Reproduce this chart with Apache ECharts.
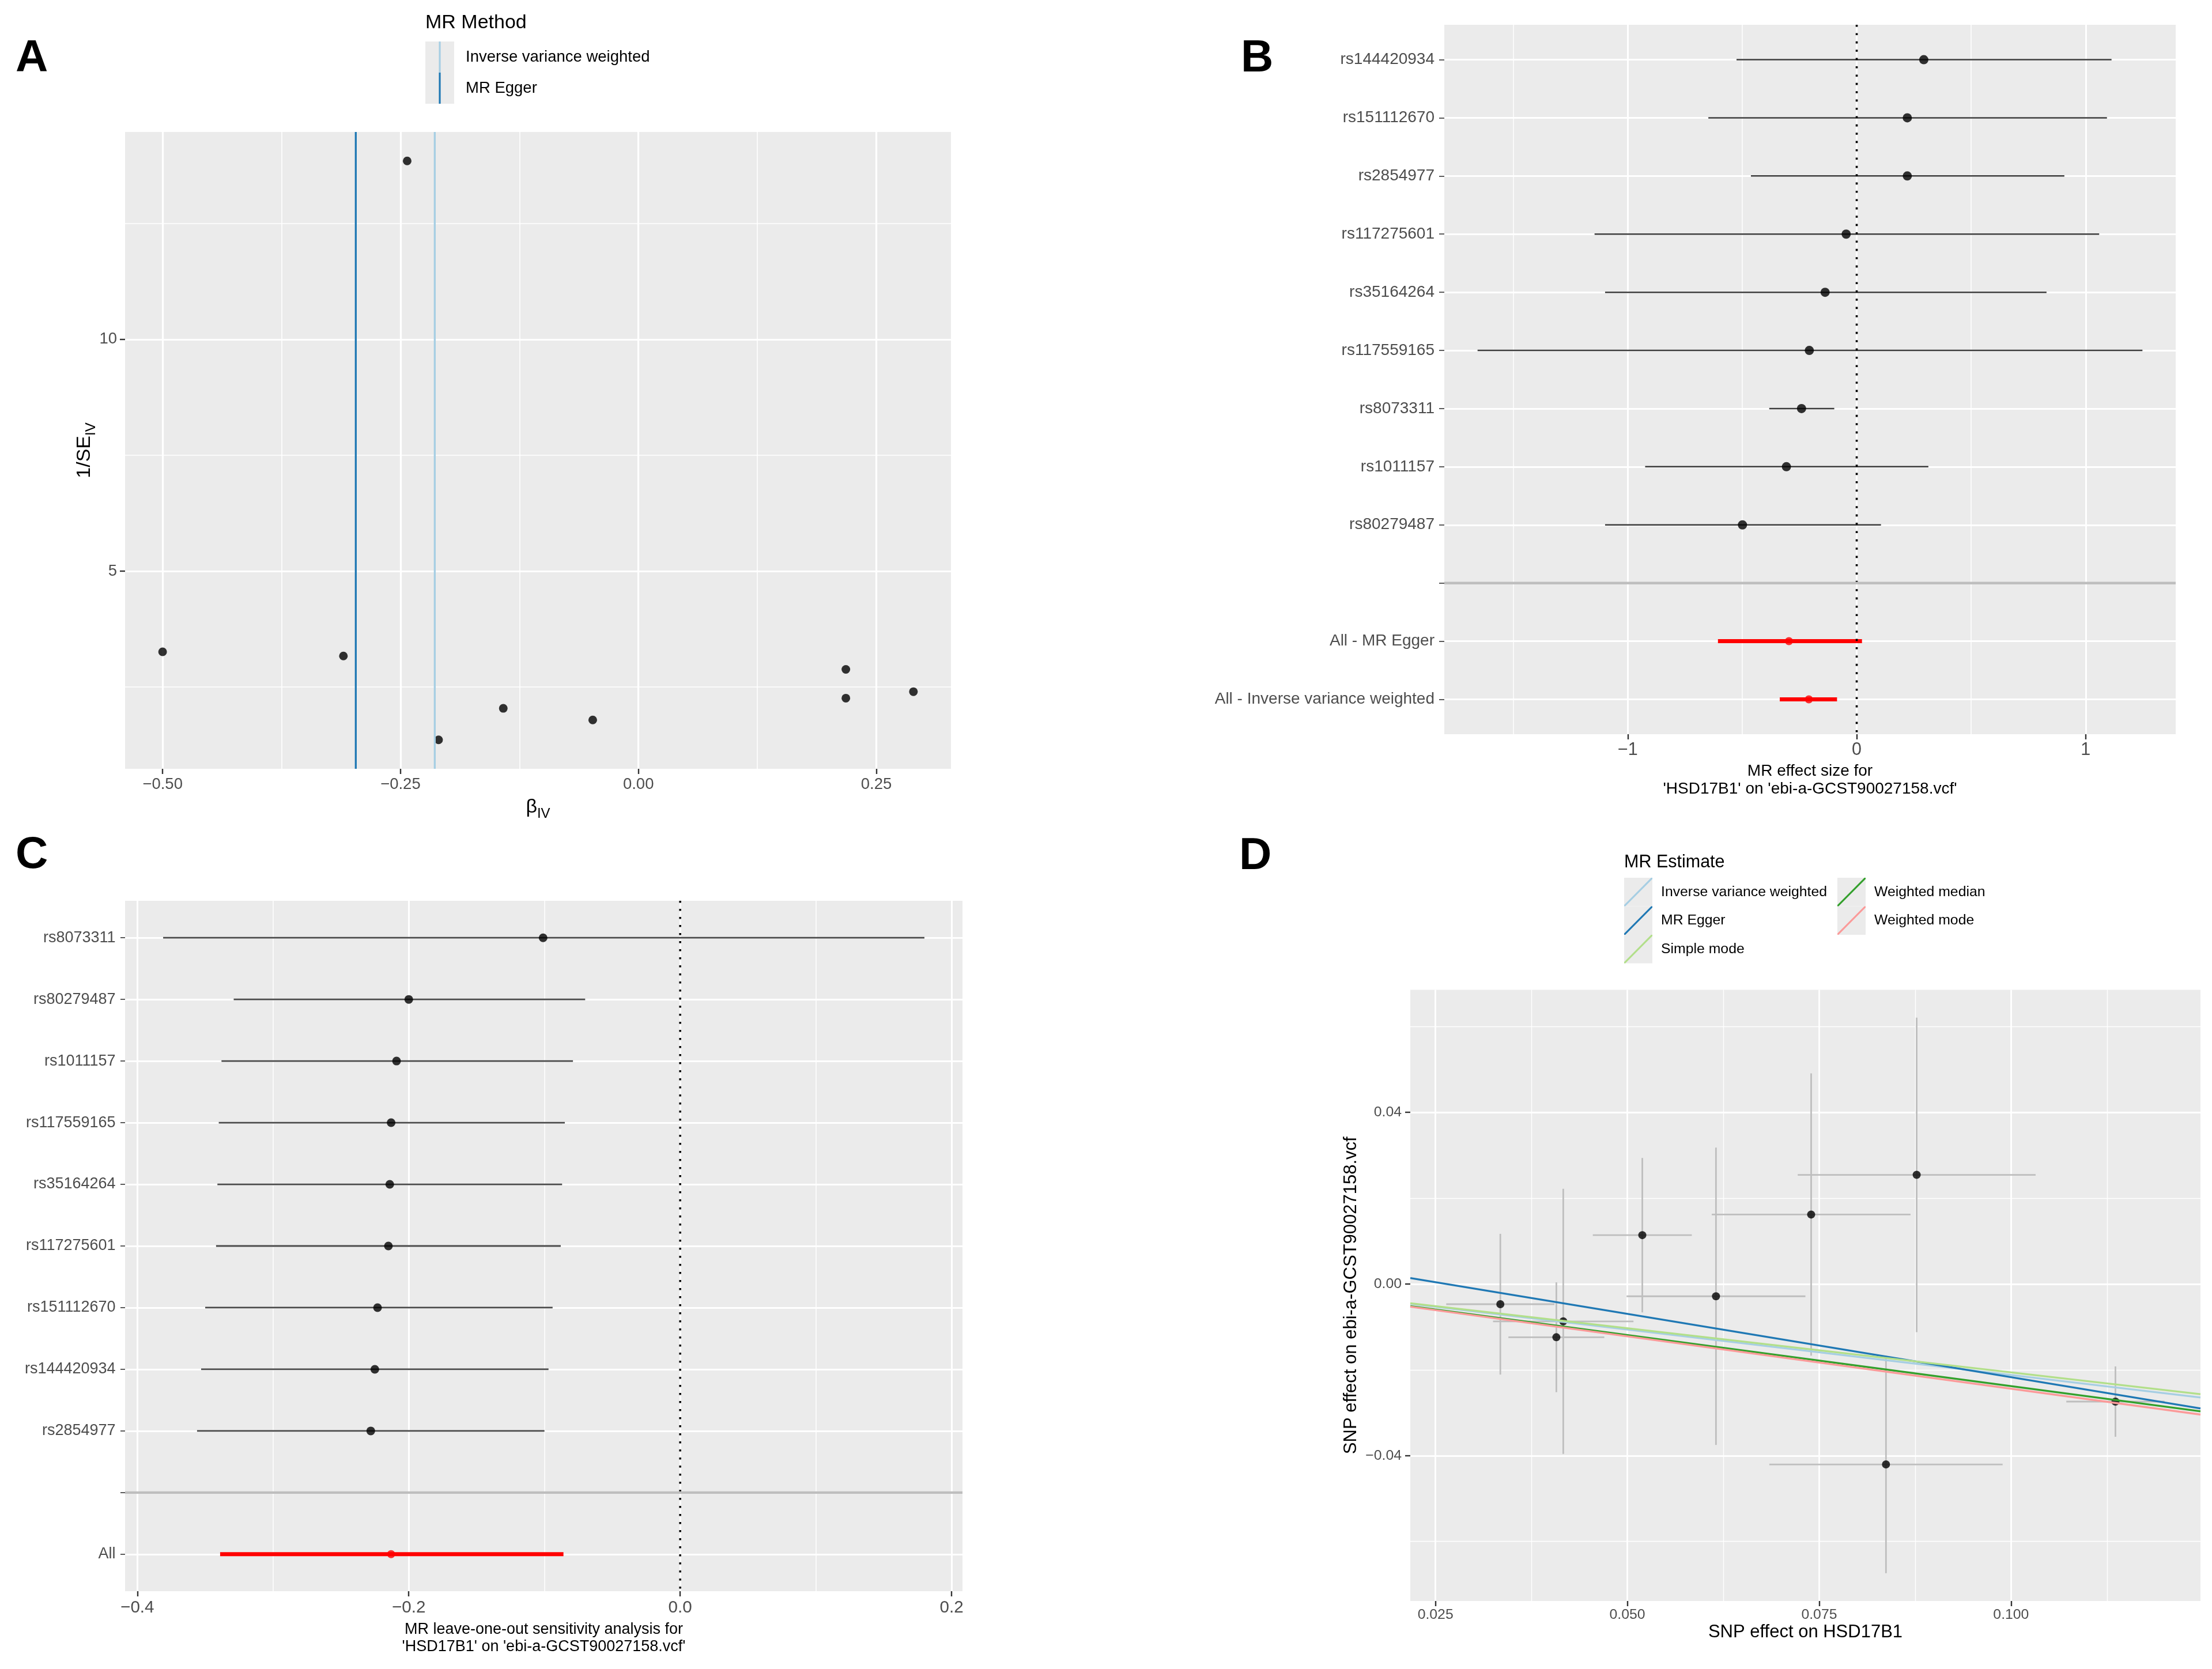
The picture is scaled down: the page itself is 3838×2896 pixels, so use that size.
<!DOCTYPE html>
<html>
<head>
<meta charset="utf-8">
<script src="https://cdn.jsdelivr.net/npm/echarts@6/dist/echarts.min.js"></script>
<style>html,body{margin:0;padding:0;background:#ffffff}#chart{width:3838px;height:2896px}</style>
</head>
<body>
<div id="chart"></div>
<script>
// ================= DATA =================
// Panel A: funnel plot (beta_IV vs 1/SE_IV)
const funnelSnps   = ['rs80279487','rs1011157','rs8073311','rs117559165','rs35164264','rs117275601','rs2854977','rs151112670','rs144420934'];
const funnelBeta   = [-0.500, -0.310, -0.243, -0.210, -0.142, -0.048, 0.218, 0.218, 0.289];
const funnelInvSE  = [3.26, 3.17, 13.85, 1.36, 2.04, 1.79, 2.88, 2.26, 2.40];
const funnelMethods = ['Inverse variance weighted', 'MR Egger'];
const funnelMethodEstimates = [-0.214, -0.297];
const funnelXTicks = [-0.5, -0.25, 0, 0.25];
const funnelXTickLabels = ['\u22120.50', '\u22120.25', '0.00', '0.25'];
const funnelYTicks = [5, 10];
const funnelYTickLabels = ['5', '10'];

// Panel B: forest plot of single-SNP estimates
const forestLabels = ['rs144420934','rs151112670','rs2854977','rs117275601','rs35164264','rs117559165','rs8073311','rs1011157','rs80279487','','All - MR Egger','All - Inverse variance weighted'];
const forestEstimate = [0.293, 0.221, 0.221, -0.046, -0.138, -0.207, -0.241, -0.307, -0.499, null, -0.296, -0.209];
const forestLower    = [-0.525, -0.648, -0.462, -1.145, -1.099, -1.656, -0.382, -0.924, -1.099, null, -0.606, -0.336];
const forestUpper    = [1.113, 1.093, 0.907, 1.059, 0.829, 1.248, -0.098, 0.313, 0.106, null, 0.023, -0.086];
const forestXTicks = [-1, 0, 1];
const forestXTickLabels = ['\u22121', '0', '1'];

// Panel C: leave-one-out analysis
const looLabels = ['rs8073311','rs80279487','rs1011157','rs117559165','rs35164264','rs117275601','rs151112670','rs144420934','rs2854977','','All'];
const looEstimate = [-0.101, -0.200, -0.209, -0.213, -0.214, -0.215, -0.223, -0.225, -0.228, null, -0.213];
const looLower    = [-0.381, -0.329, -0.338, -0.340, -0.341, -0.342, -0.350, -0.353, -0.356, null, -0.339];
const looUpper    = [0.180, -0.070, -0.079, -0.085, -0.087, -0.088, -0.094, -0.097, -0.100, null, -0.086];
const looXTicks = [-0.4, -0.2, 0, 0.2];
const looXTickLabels = ['\u22120.4', '\u22120.2', '0.0', '0.2'];

// Panel D: scatter plot of SNP effects
const scatterSnps      = ['rs35164264','rs1011157','rs117559165','rs2854977','rs117275601','rs151112670','rs144420934','rs80279487','rs8073311'];
const snpBetaExposure  = [0.03345, 0.04075, 0.04165, 0.05195, 0.06155, 0.07395, 0.08770, 0.08370, 0.11360];
const snpSeExposure    = [0.00705, 0.00625, 0.00915, 0.00645, 0.01165, 0.01295, 0.01550, 0.01520, 0.00640];
const snpBetaOutcome   = [-0.00470, -0.01240, -0.00870, 0.01140, -0.00285, 0.01620, 0.02545, -0.04205, -0.02740];
const snpSeOutcome     = [0.01640, 0.01280, 0.03090, 0.01800, 0.03465, 0.03290, 0.03665, 0.02535, 0.00820];
const estimateMethods   = ['Inverse variance weighted', 'MR Egger', 'Simple mode', 'Weighted median', 'Weighted mode'];
const estimateSlope     = [-0.212, -0.295, -0.206, -0.238, -0.244];
const estimateIntercept = [0, 0.0078, 0, 0, 0];
const scatterXTicks = [0.025, 0.05, 0.075, 0.1];
const scatterXTickLabels = ['0.025', '0.050', '0.075', '0.100'];
const scatterYTicks = [-0.04, 0, 0.04];
const scatterYTickLabels = ['\u22120.04', '0.00', '0.04'];

// ================= STYLE =================
const FONT = 'Liberation Sans';
const PANEL_BG = '#EBEBEB';
const methodColors = {
  'Inverse variance weighted': '#A6CEE3',
  'MR Egger': '#1F78B4',
  'Simple mode': '#B2DF8A',
  'Weighted median': '#33A02C',
  'Weighted mode': '#FB9A99'
};
const grids = [
  { left: 217,  top: 229,    width: 1433, height: 1105 },
  { left: 2506, top: 43,     width: 1269, height: 1231 },
  { left: 217,  top: 1563,   width: 1453, height: 1198 },
  { left: 2447, top: 1717.5, width: 1371, height: 1060.5 }
];

// ggplot-like 5% expansion of a continuous range
function expand(lo, hi) { const d = (hi - lo) * 0.05; return [lo - d, hi + d]; }
function tickLabel(ticks, labels) {
  return function (v) {
    const i = ticks.findIndex(t => Math.abs(t - v) < 1e-9);
    return i < 0 ? '' : labels[i];
  };
}
function range(arr) { const v = arr.filter(x => x != null); return [Math.min.apply(null, v), Math.max.apply(null, v)]; }

// axis limits
const aX = expand(Math.min(range(funnelBeta)[0], range(funnelMethodEstimates)[0]), Math.max(range(funnelBeta)[1], range(funnelMethodEstimates)[1]));
const aY = expand(range(funnelInvSE)[0], range(funnelInvSE)[1]);
const bX = expand(range(forestLower)[0], range(forestUpper)[1]);
const bY = [-0.6, forestLabels.length - 1 + 0.6];
const cX = expand(range(looLower)[0], range(looUpper)[1]);
const cY = [-0.6, looLabels.length - 1 + 0.6];
const dX = expand(range(snpBetaExposure.map((b, i) => b - snpSeExposure[i]))[0], range(snpBetaExposure.map((b, i) => b + snpSeExposure[i]))[1]);
const dY = expand(range(snpBetaOutcome.map((b, i) => b - snpSeOutcome[i]))[0], range(snpBetaOutcome.map((b, i) => b + snpSeOutcome[i]))[1]);

function contAxis(o) {
  return {
    type: 'value', gridIndex: o.grid, min: o.min, max: o.max,
    minInterval: o.step, maxInterval: o.step, inverse: !!o.inverse,
    axisLine: { show: false, onZero: false },
    axisTick: { show: true, length: o.tickLen || 9, customValues: o.ticks,
      lineStyle: { color: '#333333', width: o.tickW || 2.4 } },
    axisLabel: { show: true, customValues: o.ticks, formatter: o.fmt,
      color: '#4D4D4D', fontSize: o.fs, fontFamily: FONT, margin: o.margin },
    splitLine: { show: true, lineStyle: { color: '#FFFFFF', width: o.majW || 3 } },
    minorTick: { show: false, splitNumber: 2 },
    minorSplitLine: { show: o.minor !== false, lineStyle: { color: '#FFFFFF', width: o.minW || 1.5 } },
    name: o.name || '', nameLocation: 'middle', nameGap: o.nameGap || 0,
    nameMoveOverlap: false,
    nameTextStyle: o.nameStyle || {},
    axisPointer: { show: false }, silent: true
  };
}

function hSegment(color, width) {
  return function (params, api) {
    const a = api.coord([api.value(0), api.value(2)]);
    const b = api.coord([api.value(1), api.value(2)]);
    return { type: 'line', shape: { x1: a[0], y1: a[1], x2: b[0], y2: b[1] },
      style: { stroke: color, lineWidth: width, lineCap: 'butt' } };
  };
}
function vSegment(color, width) {
  return function (params, api) {
    const a = api.coord([api.value(0), api.value(1)]);
    const b = api.coord([api.value(0), api.value(2)]);
    return { type: 'line', shape: { x1: a[0], y1: a[1], x2: b[0], y2: b[1] },
      style: { stroke: color, lineWidth: width, lineCap: 'butt' } };
  };
}

const subRich = {
  m: { fontSize: 34, lineHeight: 34, verticalAlign: 'top', color: '#000', fontFamily: FONT },
  s: { fontSize: 24, lineHeight: 24, verticalAlign: 'top', padding: [16, 0, 0, 0], color: '#000', fontFamily: FONT }
};

// ================= AXES =================
const xAxes = [
  contAxis({ grid: 0, min: aX[0], max: aX[1], step: 0.25, ticks: funnelXTicks, fmt: tickLabel(funnelXTicks, funnelXTickLabels),
    fs: 27.5, margin: 13, majW: 3.2, minW: 1.6,
    name: '{m|\u03B2}{s|IV}', nameGap: 50, nameStyle: { rich: subRich, fontSize: 34, color: '#000' } }),
  contAxis({ grid: 1, min: bX[0], max: bX[1], step: 1, ticks: forestXTicks, fmt: tickLabel(forestXTicks, forestXTickLabels),
    fs: 30.5, margin: 12, majW: 3, minW: 1.5,
    name: "MR effect size for\n'HSD17B1' on 'ebi-a-GCST90027158.vcf'", nameGap: 48.5,
    nameStyle: { fontSize: 28, lineHeight: 31, color: '#000', fontFamily: FONT } }),
  contAxis({ grid: 2, min: cX[0], max: cX[1], step: 0.2, ticks: looXTicks, fmt: tickLabel(looXTicks, looXTickLabels),
    fs: 29.6, margin: 14, majW: 3, minW: 1.5,
    name: "MR leave-one-out sensitivity analysis for\n'HSD17B1' on 'ebi-a-GCST90027158.vcf'", nameGap: 51,
    nameStyle: { fontSize: 27, lineHeight: 30.5, color: '#000', fontFamily: FONT } }),
  contAxis({ grid: 3, min: dX[0], max: dX[1], step: 0.025, ticks: scatterXTicks, fmt: tickLabel(scatterXTicks, scatterXTickLabels),
    fs: 24.8, margin: 11.6, majW: 2.8, minW: 1.4,
    name: 'SNP effect on HSD17B1', nameGap: 38.5, nameStyle: { fontSize: 31, color: '#000', fontFamily: FONT } })
];
const forestIdx = forestLabels.map((_, i) => i);
const looIdx = looLabels.map((_, i) => i);
const yAxes = [
  contAxis({ grid: 0, min: aY[0], max: aY[1], step: 5, ticks: funnelYTicks, fmt: tickLabel(funnelYTicks, funnelYTickLabels),
    fs: 27.5, margin: 14, majW: 3.2, minW: 1.6,
    name: '{m|1/SE}{s|IV}', nameGap: 53, nameStyle: { rich: subRich, fontSize: 34, color: '#000' } }),
  contAxis({ grid: 1, min: bY[0], max: bY[1], step: 1, inverse: true, minor: false, ticks: forestIdx,
    fmt: v => forestLabels[Math.round(v)] || '', fs: 28, margin: 17, majW: 3, tickW: 1.6, tickLen: 9 }),
  contAxis({ grid: 2, min: cY[0], max: cY[1], step: 1, inverse: true, minor: false, ticks: looIdx,
    fmt: v => looLabels[Math.round(v)] || '', fs: 27, margin: 16.4, majW: 3, tickW: 1.6, tickLen: 8 }),
  contAxis({ grid: 3, min: dY[0], max: dY[1], step: 0.04, ticks: scatterYTicks, fmt: tickLabel(scatterYTicks, scatterYTickLabels),
    fs: 24.8, margin: 15, majW: 2.8, minW: 1.4,
    name: 'SNP effect on ebi-a-GCST90027158.vcf', nameGap: 87.5, nameStyle: { fontSize: 31, color: '#000', fontFamily: FONT } })
];

// ================= SERIES =================
const series = [];
// --- A ---
series.push({ type: 'scatter', name: 'funnel', xAxisIndex: 0, yAxisIndex: 0, silent: true,
  data: funnelBeta.map((b, i) => [b, funnelInvSE[i]]), symbolSize: 15, itemStyle: { color: '#000000' } });
funnelMethods.forEach((m, i) => {
  series.push({ type: 'line', name: m, xAxisIndex: 0, yAxisIndex: 0, silent: true, symbol: 'none',
    data: [[funnelMethodEstimates[i], aY[0]], [funnelMethodEstimates[i], aY[1]]],
    itemStyle: { color: methodColors[m] }, lineStyle: { color: methodColors[m], width: 3.3 } });
});

// --- B and C forest-type panels ---
function forestSeries(axis, labels, est, lo, hi, xr, yr, sty) {
  const isTot = labels.map(l => /^All/.test(l));
  const valid = labels.map((l, i) => est[i] != null);
  const blank = labels.indexOf('');
  series.push({ type: 'line', name: 'zero' + axis, xAxisIndex: axis, yAxisIndex: axis, silent: true, symbol: 'none',
    data: [[0, yr[0]], [0, yr[1]]], lineStyle: { color: '#000000', width: sty.dotW, type: [sty.dotW, sty.dotW * 3], cap: 'butt' } });
  series.push({ type: 'custom', name: 'ci' + axis, xAxisIndex: axis, yAxisIndex: axis, silent: true,
    renderItem: hSegment(sty.barColor, sty.barW), encode: { x: [0, 1], y: 2 },
    data: labels.map((l, i) => [lo[i], hi[i], i]).filter((d, i) => valid[i] && !isTot[i]) });
  series.push({ type: 'custom', name: 'citot' + axis, xAxisIndex: axis, yAxisIndex: axis, silent: true,
    renderItem: hSegment('#FF0000', sty.totW), encode: { x: [0, 1], y: 2 },
    data: labels.map((l, i) => [lo[i], hi[i], i]).filter((d, i) => valid[i] && isTot[i]) });
  series.push({ type: 'scatter', name: 'pt' + axis, xAxisIndex: axis, yAxisIndex: axis, silent: true,
    symbolSize: sty.ptSize, itemStyle: { color: '#000000' },
    data: labels.map((l, i) => [est[i], i]).filter((d, i) => valid[i] && !isTot[i]) });
  series.push({ type: 'scatter', name: 'pttot' + axis, xAxisIndex: axis, yAxisIndex: axis, silent: true,
    symbolSize: sty.totPt, itemStyle: { color: '#FF0000' },
    data: labels.map((l, i) => [est[i], i]).filter((d, i) => valid[i] && isTot[i]) });
  series.push({ type: 'line', name: 'sep' + axis, xAxisIndex: axis, yAxisIndex: axis, silent: true, symbol: 'none',
    data: [[xr[0], blank], [xr[1], blank]], lineStyle: { color: '#BEBEBE', width: sty.sepW } });
}
forestSeries(1, forestLabels, forestEstimate, forestLower, forestUpper, bX, bY,
  { dotW: 3.6, barColor: '#3C3C3C', barW: 2.5, totW: 7, ptSize: 16, totPt: 14, sepW: 4.5 });
forestSeries(2, looLabels, looEstimate, looLower, looUpper, cX, cY,
  { dotW: 3.5, barColor: '#4A4A4A', barW: 2.8, totW: 7, ptSize: 15, totPt: 14, sepW: 4.4 });

// --- D ---
series.push({ type: 'custom', name: 'seOut', xAxisIndex: 3, yAxisIndex: 3, silent: true,
  renderItem: vSegment('#BEBEBE', 2.8), encode: { x: 0, y: [1, 2] },
  data: snpBetaExposure.map((b, i) => [b, snpBetaOutcome[i] - snpSeOutcome[i], snpBetaOutcome[i] + snpSeOutcome[i]]) });
series.push({ type: 'custom', name: 'seExp', xAxisIndex: 3, yAxisIndex: 3, silent: true,
  renderItem: hSegment('#BEBEBE', 2.8), encode: { x: [0, 1], y: 2 },
  data: snpBetaExposure.map((b, i) => [b - snpSeExposure[i], b + snpSeExposure[i], snpBetaOutcome[i]]) });
series.push({ type: 'scatter', name: 'snp', xAxisIndex: 3, yAxisIndex: 3, silent: true,
  symbolSize: 14, itemStyle: { color: '#000000' },
  data: snpBetaExposure.map((b, i) => [b, snpBetaOutcome[i]]) });
estimateMethods.forEach((m, i) => {
  const a = estimateIntercept[i], s = estimateSlope[i];
  series.push({ type: 'line', name: m, xAxisIndex: 3, yAxisIndex: 3, silent: true, symbol: 'none',
    data: [[dX[0], a + s * dX[0]], [dX[1], a + s * dX[1]]],
    itemStyle: { color: methodColors[m] }, lineStyle: { color: methodColors[m], width: 3.3 } });
});

// ================= LEGENDS =================
// glyph paths share a 10x10 box (tiny corner squares fix the bounding box)
const BOX = 'M0,0h0.002v0.002h-0.002z M9.998,9.998h0.002v0.002h-0.002z ';
const VLINE_ICON = 'path://' + BOX + 'M4.69,0h0.63v10h-0.63z';
const DIAG_ICON = 'path://' + BOX + 'M0,9.57L9.57,0L10,0L10,0.43L0.43,10L0,10Z';
function keyLegends(names, left, top, w, h, icon, fs, textPad) {
  return [
    { left: left, top: top, orient: 'vertical', itemWidth: w, itemHeight: h, itemGap: 0, padding: 0,
      icon: 'rect', selectedMode: false, z: 3, formatter: () => '',
      data: names.map(n => ({ name: n, itemStyle: { color: PANEL_BG, borderWidth: 0 } })) },
    { left: left, top: top, orient: 'vertical', itemWidth: w, itemHeight: h, itemGap: 0, padding: 0,
      icon: icon, symbolKeepAspect: false, selectedMode: false, z: 4,
      formatter: n => '{t|' + n + '}',
      textStyle: { fontSize: fs, color: '#000000', fontFamily: FONT,
        rich: { t: { fontSize: fs, color: '#000000', fontFamily: FONT, padding: [0, 0, 0, textPad] } } },
      data: names.map(n => ({ name: n, itemStyle: { color: methodColors[n], borderWidth: 0 } })) }
  ];
}
const legends = [].concat(
  keyLegends(funnelMethods, 738, 72, 50, 54, VLINE_ICON, 27.5, 15),
  keyLegends(estimateMethods.slice(0, 3), 2818, 1523, 49, 49.5, DIAG_ICON, 24.8, 10),
  keyLegends(estimateMethods.slice(3), 3188, 1523, 49, 49.5, DIAG_ICON, 24.8, 10)
);

// ================= TITLES =================
function letter(t, left, top) {
  return { text: t, left: left, top: top, padding: 0,
    textStyle: { fontSize: 78, fontWeight: 'bold', color: '#000000', fontFamily: FONT } };
}
const titles = [
  letter('A', 27, 63), letter('B', 2153, 63), letter('C', 27, 1445), letter('D', 2150, 1447),
  { text: 'MR Method', left: 738, top: 22.5, padding: 0, textStyle: { fontSize: 34, fontWeight: 'normal', color: '#000000', fontFamily: FONT } },
  { text: 'MR Estimate', left: 2818, top: 1481, padding: 0, textStyle: { fontSize: 30.5, fontWeight: 'normal', color: '#000000', fontFamily: FONT } }
];

const chart = echarts.init(document.getElementById('chart'), null, { renderer: 'canvas' });
chart.setOption({
  animation: false,
  backgroundColor: '#FFFFFF',
  textStyle: { fontFamily: FONT },
  title: titles,
  legend: legends,
  grid: grids.map(g => Object.assign({ show: true, backgroundColor: PANEL_BG, borderWidth: 0, containLabel: false, outerBoundsMode: 'none' }, g)),
  xAxis: xAxes,
  yAxis: yAxes,
  series: series
});
</script>
</body>
</html>
